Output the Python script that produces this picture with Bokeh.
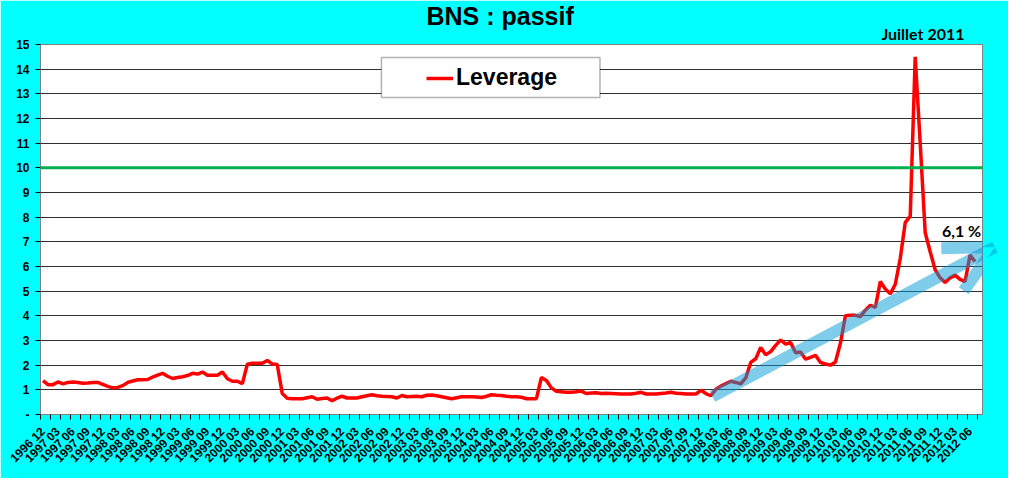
import math
from bokeh.plotting import figure
from bokeh.models import (FixedTicker, BoxAnnotation, Label, Arrow, OpenHead,
                          Legend, LegendItem, Range1d, Title)
from bokeh.embed import file_html
from bokeh.resources import INLINE

# ---- data -------------------------------------------------------------
start_year, start_month = 1996, 12
leverage = [
    1.37, 1.21, 1.21, 1.32, 1.24, 1.30, 1.32, 1.30, 1.27, 1.28, 1.30, 1.30,
    1.22, 1.14, 1.08, 1.10, 1.17, 1.30, 1.36, 1.41, 1.41, 1.42, 1.52, 1.60,
    1.67, 1.55, 1.46, 1.50, 1.53, 1.58, 1.67, 1.64, 1.72, 1.59, 1.59, 1.59,
    1.72, 1.45, 1.35, 1.35, 1.25, 2.04, 2.08, 2.08, 2.08, 2.19, 2.05, 2.03,
    0.85, 0.66, 0.64, 0.64, 0.64, 0.68, 0.72, 0.62, 0.65, 0.67, 0.56, 0.66,
    0.74, 0.67, 0.67, 0.67, 0.72, 0.76, 0.80, 0.76, 0.74, 0.73, 0.72, 0.67,
    0.77, 0.72, 0.73, 0.74, 0.72, 0.78, 0.79, 0.76, 0.72, 0.68, 0.64, 0.68,
    0.72, 0.72, 0.72, 0.71, 0.69, 0.74, 0.80, 0.78, 0.77, 0.74, 0.72, 0.72,
    0.70, 0.64, 0.64, 0.64, 1.50, 1.38, 1.08, 0.94, 0.92, 0.90, 0.90, 0.92,
    0.95, 0.85, 0.87, 0.88, 0.85, 0.86, 0.85, 0.84, 0.83, 0.83, 0.83, 0.86,
    0.90, 0.83, 0.83, 0.83, 0.85, 0.87, 0.90, 0.86, 0.85, 0.83, 0.83, 0.83,
    0.98, 0.85, 0.76, 1.02, 1.15, 1.25, 1.35, 1.30, 1.24, 1.48, 2.11, 2.26,
    2.72, 2.42, 2.55, 2.80, 3.02, 2.85, 2.92, 2.50, 2.53, 2.24, 2.32, 2.40,
    2.11, 2.05, 2.00, 2.13, 2.90, 4.00, 4.02, 4.02, 3.97, 4.23, 4.43, 4.34,
    5.39, 5.09, 4.89, 5.28, 6.33, 7.78, 8.04, 14.5, 11.0, 7.38, 6.60, 5.87,
    5.54, 5.35, 5.54, 5.65, 5.48, 5.39, 6.46, 6.20,
]
n = len(leverage)
month_labels = []
yy, mm = start_year, start_month
for _ in range(n):
    month_labels.append(f"{yy} {mm:02d}")
    mm += 1
    if mm > 12:
        mm = 1
        yy += 1
x_idx = list(range(n))
tick_positions = list(range(0, n, 3))
tick_labels = [month_labels[i] for i in tick_positions]
y_ticks = list(range(0, 16))
threshold = 10
series_name = "Leverage"
title_text = "BNS : passif"
peak_note = "Juillet 2011"
trend_note = "6,1 %"

# ---- figure -----------------------------------------------------------
p = figure(width=1008, height=478, output_backend="svg", toolbar_location=None,
           x_range=Range1d(-0.5, n + 0.5), y_range=Range1d(0, 15),
           min_border_left=40, min_border_right=26, min_border_top=44,
           min_border_bottom=64)
p.background_fill_color = "white"
p.border_fill_color = "#00FFFF"
p.outline_line_color = "#808080"

p.title.text = title_text
p.title.align = "left"
p.title.offset = 386
p.title.standoff = -21
p.title.text_font = "Liberation Sans"
p.title.text_font_size = "25px"
p.title.text_font_style = "bold"
p.title.text_color = "black"

p.add_layout(Title(text=peak_note, align="right", offset=18, standoff=4,
                   text_font="Lato", text_font_size="16px",
                   text_font_style="bold", text_color="black"), "above")

# y axis
p.yaxis.ticker = FixedTicker(ticks=y_ticks)
p.yaxis.major_label_overrides = {0: "-"}
p.yaxis.major_label_text_font = "Liberation Sans"
p.yaxis.major_label_text_font_size = "12px"
p.yaxis.major_label_text_font_style = "bold"
p.yaxis.major_label_text_color = "black"
p.yaxis.axis_line_color = "#808080"
p.yaxis.major_tick_out = 5
p.yaxis.major_tick_in = 0
p.yaxis.minor_tick_line_color = None
p.yaxis.major_label_standoff = 6

# x axis
minor_bounds = [b - 0.5 for b in range(0, n + 2, 2)]
p.xaxis.ticker = FixedTicker(ticks=tick_positions, minor_ticks=minor_bounds)
p.xaxis.major_label_overrides = {pos: lab for pos, lab in zip(tick_positions, tick_labels)}
p.xaxis.major_label_orientation = math.pi / 4
p.xaxis.major_label_text_font = "Liberation Sans"
p.xaxis.major_label_text_font_size = "12px"
p.xaxis.major_label_text_font_style = "bold"
p.xaxis.major_label_text_color = "black"
p.xaxis.axis_line_color = "#808080"
p.xaxis.major_tick_out = 0
p.xaxis.major_tick_in = 0
p.xaxis.minor_tick_out = 5
p.xaxis.minor_tick_in = 0
p.xaxis.minor_tick_line_color = "black"
p.xaxis.major_label_standoff = 10

p.xgrid.visible = False
p.ygrid.ticker = FixedTicker(ticks=y_ticks)
p.ygrid.grid_line_color = "#303030"
p.ygrid.grid_line_width = 1

# threshold line
p.add_layout(Arrow(start=None, end=None, x_start=-1.7, x_end=191.0,
                   y_start=threshold, y_end=threshold,
                   line_color="#00B050", line_width=3))

# series
r = p.line(x_idx, leverage, line_color="#FF0000", line_width=3.5)

# trend arrow
arrow_col = "#009BD7"
p.add_layout(Arrow(end=OpenHead(size=48, line_color=arrow_col, line_width=12,
                                line_alpha=0.5),
                   x_start=134.3, y_start=0.73, x_end=191.0, y_end=6.79,
                   line_color=arrow_col, line_width=12, line_alpha=0.5))

# legend
p.add_layout(BoxAnnotation(left=67.9, right=111.75, bottom=12.85, top=14.47,
                           fill_color="white", fill_alpha=1.0,
                           line_color="black", line_width=1.5))
legend = Legend(items=[LegendItem(label=series_name, renderers=[r])],
                location=(386, 323), padding=0, margin=0, glyph_width=27,
                glyph_height=20, label_standoff=3,
                label_text_font="Liberation Sans", label_text_font_size="23px",
                label_text_font_style="bold", label_text_color="black",
                border_line_alpha=0, background_fill_alpha=0)
p.add_layout(legend)

# trend note
p.add_layout(Label(x=184.3, y=7.46, text=trend_note, text_align="center",
                   text_baseline="middle", text_font="Lato",
                   text_font_size="16px", text_font_style="bold",
                   text_color="black"))

open("out.html", "w").write(file_html(p, INLINE))
